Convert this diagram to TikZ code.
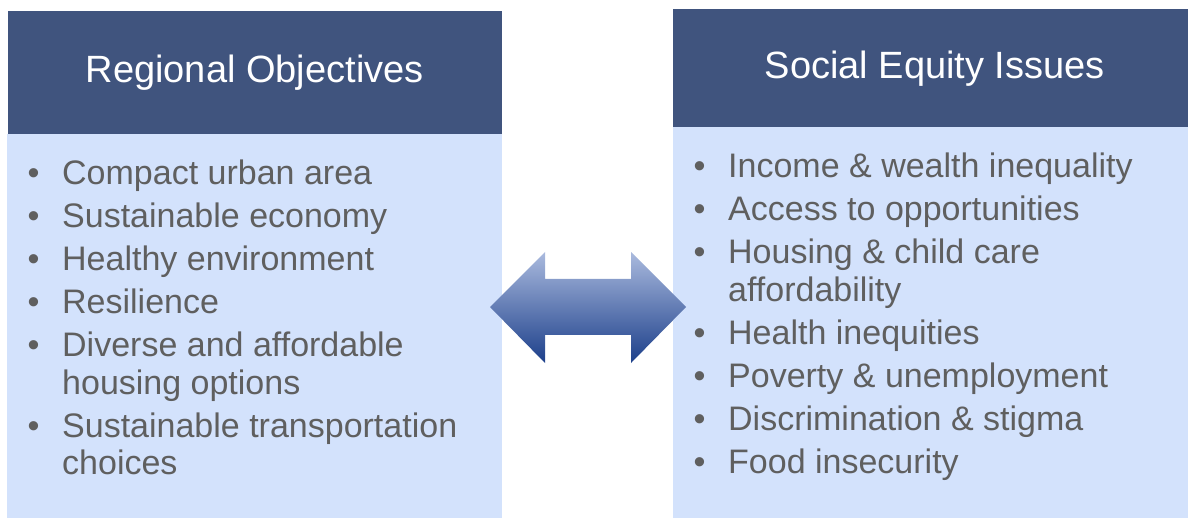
\documentclass[tikz,border=0pt]{standalone}
\usepackage{fontspec}
\setmainfont{Liberation Sans}
\usetikzlibrary{positioning}
\definecolor{headblue}{RGB}{64,84,126}
\definecolor{bodyblue}{RGB}{211,226,252}
\definecolor{textgray}{RGB}{95,95,95}
\definecolor{arrowtop}{RGB}{170,186,222}
\definecolor{arrowbot}{RGB}{28,63,138}
\newcommand{\itm}[1]{\makebox[34.6pt][l]{\textbullet}#1}
\newcommand{\cnt}[1]{\hspace*{34.6pt}#1}

\begin{document}
\begin{tikzpicture}[x=1pt,y=1pt, head node/.style={rectangle,fill=headblue,text=white,inner sep=0,anchor=north west,font=\fontsize{38}{44}\selectfont}, body node/.style={rectangle,fill=bodyblue,inner sep=0,anchor=north west}, list node/.style={inner sep=0,anchor=base west,text=textgray,font=\fontsize{34}{37.5}\selectfont}]

            \useasboundingbox (0,0) rectangle (1188,-518);

            \node[body node, minimum width=495, minimum height=384] (objbody) at (7,-134) {};
            \node[head node, minimum width=494, minimum height=123] (objhead) at (7.5,-11) {\raisebox{-2pt}{Regional Objectives}};

            \node[body node, minimum width=523, minimum height=391] (eqbody) at (673,-127) {};
            \node[head node, minimum width=523, minimum height=118] (eqhead) at (673,-9) {\raisebox{-2pt}{Social Equity Issues}};

            \node[list node] (objlist) at (27.4,-185) {\begin{tabular}[t]{@{}l@{}}
                \itm{Compact urban area}\\[5.5pt]
                \itm{Sustainable economy}\\[5.5pt]
                \itm{Healthy environment}\\[5.5pt]
                \itm{Resilience}\\[5.5pt]
                \itm{Diverse and affordable}\\
                \cnt{housing options}\\[5.5pt]
                \itm{Sustainable transportation}\\
                \cnt{choices}
            \end{tabular}};

            \node[list node] (eqlist) at (693.4,-178) {\begin{tabular}[t]{@{}l@{}}
                \itm{Income \& wealth inequality}\\[5.5pt]
                \itm{Access to opportunities}\\[5.5pt]
                \itm{Housing \& child care}\\
                \cnt{affordability}\\[5.5pt]
                \itm{Health inequities}\\[5.5pt]
                \itm{Poverty \& unemployment}\\[5.5pt]
                \itm{Discrimination \& stigma}\\[5.5pt]
                \itm{Food insecurity}
            \end{tabular}};

            \shade[top color=arrowtop, bottom color=arrowbot]
                (490,-307) -- (545,-252) -- (545,-279) -- (631,-279) -- (631,-252) -- (686,-307)
                -- (631,-363) -- (631,-335) -- (545,-335) -- (545,-363) -- cycle;
        \end{tikzpicture}
\end{document}
